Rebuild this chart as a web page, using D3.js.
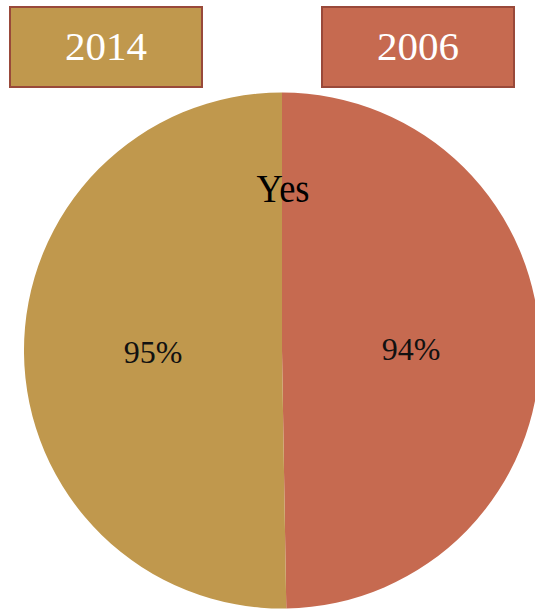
<!DOCTYPE html>
<html>
<head>
<meta charset="utf-8">
<script src="https://cdn.jsdelivr.net/npm/d3@7"></script>
<style>
  html, body { margin: 0; padding: 0; background: #fff; overflow: hidden; }
  svg { display: block; }
</style>
</head>
<body>
<svg id="chart" width="535" height="610"></svg>
<script>
// Share answering "Yes", by survey year
const years = ["2006", "2014"];
const values = [94, 95];
const labels = ["94%", "95%"];
const colors = ["#C66A50", "#C0984D"];
const title = "Yes";

const svg = d3.select("#chart");
const cx = 282, cy = 350.5, radius = 258;

const pie = d3.pie().sort(null).value(d => d.value);
const arc = d3.arc().innerRadius(0).outerRadius(radius);
const labelArc = d3.arc().innerRadius(0).outerRadius(radius);

const data = years.map((y, i) => ({ year: y, value: values[i], label: labels[i], color: colors[i] }));
const arcs = pie(data);

const g = svg.append("g").attr("transform", `translate(${cx},${cy})`);

g.selectAll("path.slice")
  .data(arcs)
  .enter().append("path")
  .attr("class", "slice")
  .attr("d", arc)
  .attr("fill", d => d.data.color);

g.selectAll("text.pct")
  .data(arcs)
  .enter().append("text")
  .attr("class", "pct")
  .attr("x", d => labelArc.centroid(d)[0])
  .attr("y", d => labelArc.centroid(d)[1] + 11)
  .attr("text-anchor", "middle")
  .attr("font-family", "'Liberation Serif', 'DejaVu Serif', serif")
  .attr("font-size", 32)
  .attr("fill", "#111")
  .text(d => d.data.label);

// Series title above the centre
svg.append("text")
  .attr("x", 283)
  .attr("y", 202)
  .attr("text-anchor", "middle")
  .attr("font-family", "'Liberation Serif', 'DejaVu Serif', serif")
  .attr("font-size", 40)
  .attr("textLength", 53)
  .attr("lengthAdjust", "spacingAndGlyphs")
  .attr("fill", "#000")
  .text(title);

// Year legend boxes: 2014 on the left, 2006 on the right
const legend = [
  { year: years[1], color: colors[1], x: 10, y: 7, w: 192, h: 80 },
  { year: years[0], color: colors[0], x: 322, y: 7, w: 192, h: 80 }
];

const lg = svg.selectAll("g.legend")
  .data(legend)
  .enter().append("g")
  .attr("class", "legend");

lg.append("rect")
  .attr("x", d => d.x)
  .attr("y", d => d.y)
  .attr("width", d => d.w)
  .attr("height", d => d.h)
  .attr("fill", d => d.color)
  .attr("stroke", "#99493A")
  .attr("stroke-width", 2);

lg.append("text")
  .attr("x", d => d.x + d.w / 2)
  .attr("y", 60)
  .attr("text-anchor", "middle")
  .attr("font-family", "'Liberation Serif', 'DejaVu Serif', serif")
  .attr("font-size", 41)
  .attr("fill", "#fff")
  .text(d => d.year);
</script>
</body>
</html>
